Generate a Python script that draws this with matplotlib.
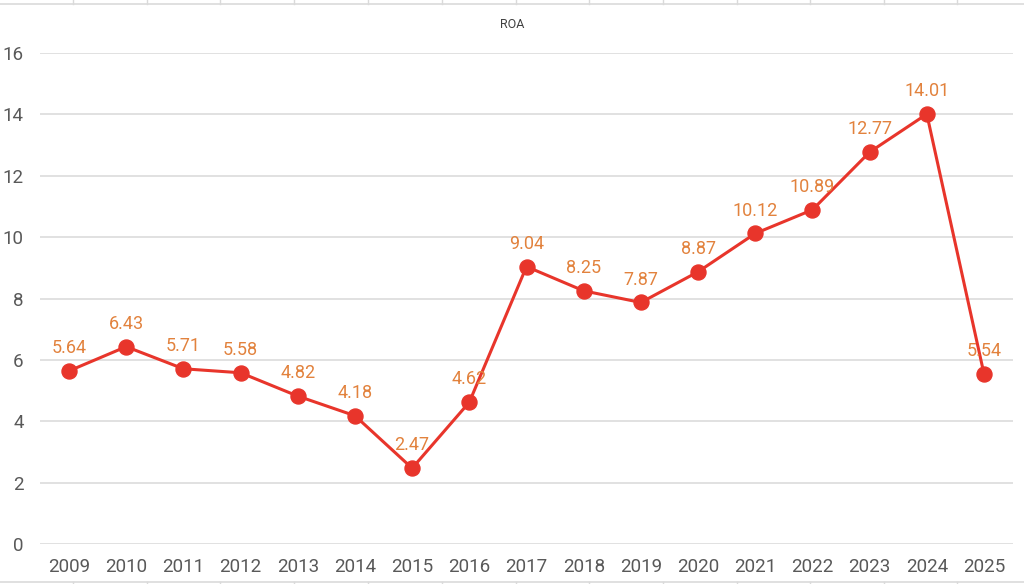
import matplotlib
matplotlib.use("Agg")
import matplotlib.pyplot as plt
from matplotlib.lines import Line2D

# ROA by year
years = ["2009", "2010", "2011", "2012", "2013", "2014", "2015", "2016", "2017",
         "2018", "2019", "2020", "2021", "2022", "2023", "2024", "2025"]
roa = [5.64, 6.43, 5.71, 5.58, 4.82, 4.18, 2.47, 4.62, 9.04,
       8.25, 7.87, 8.87, 10.12, 10.89, 12.77, 14.01, 5.54]

plt.rcParams['font.family'] = ['Roboto', 'DejaVu Sans']

fig = plt.figure(figsize=(10.24, 5.84), dpi=100)
ax = fig.add_axes([40.4 / 1024, 40 / 584, 972.2 / 1024, 491 / 584])

x = list(range(len(years)))
ax.plot(x, roa, color='#E8352B', linewidth=2.2, marker='o', markersize=10.8, zorder=3)

for xi, v in zip(x, roa):
    ax.annotate(f"{v:.2f}", (xi, v), xytext=(0, 16.5), textcoords='offset points',
                ha='center', va='center', fontsize=13, color='#E2823D', zorder=4)

ax.set_xlim(-0.5, len(years) - 0.5)
ax.set_ylim(0, 16)
ax.set_yticks(range(0, 17, 2))
ax.set_xticks(x)
ax.set_xticklabels(years)
ax.tick_params(axis='both', length=0, labelsize=13.5, labelcolor='#595959')
ax.tick_params(axis='y', pad=12)
ax.tick_params(axis='x', pad=10)
ax.grid(axis='y', color='#D9D9D9', linewidth=1.1)
ax.set_axisbelow(True)
for s in ax.spines.values():
    s.set_visible(False)

fig.text(0.5, 1 - 25 / 584, "ROA", ha='center', va='center', fontsize=9, color='#404040')

# spreadsheet cell borders peeking at the top and bottom edge
col_edges = [73, 147, 220, 294, 368, 442, 516, 589, 663, 737, 810, 884, 957]
for yy, y0, y1 in [(4, 0, 4), (582, 582, 584)]:
    fig.add_artist(Line2D([0, 1], [1 - yy / 584] * 2, color='#DADADA', linewidth=1.2,
                          transform=fig.transFigure))
    for cx in col_edges:
        fig.add_artist(Line2D([cx / 1024] * 2, [1 - y0 / 584, 1 - y1 / 584],
                              color='#DADADA', linewidth=1.0, transform=fig.transFigure))

fig.savefig("out.png", dpi=100)
